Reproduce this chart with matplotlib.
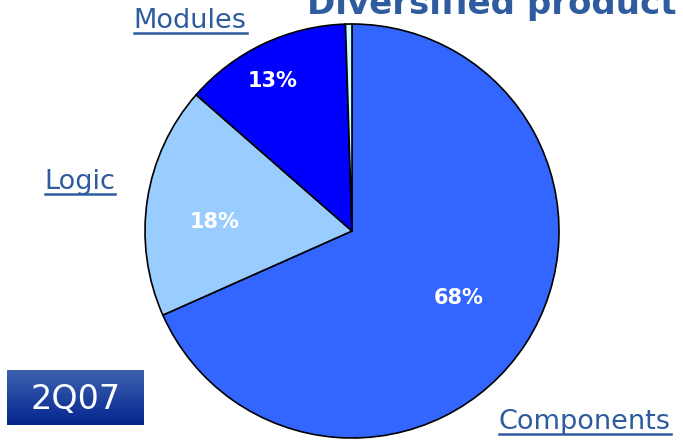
import numpy as np
import matplotlib.pyplot as plt
from matplotlib.lines import Line2D

# Product mix, 2Q07 (share of revenue, %)
segments = ['Components', 'Logic', 'Modules', 'Other']
shares = [68, 18, 13, 0.5]
colors = ['#3366FF', '#99CCFF', '#0000FF', '#CCFFFF']
shown = ['Components', 'Logic', 'Modules']
# where each percentage sits: fraction of radius, nudge from mid-angle (deg)
pct_radius = [0.61, 0.665, 0.82]
pct_nudge = [1.0, 5.0, 2.5]

label_color = '#2E5C9E'

fig = plt.figure(figsize=(6.83, 4.43), dpi=100)
W, H = 683, 443

# pie axes: centre (352, 231) px, radius ~206 px
r_px = 207
ax = fig.add_axes([(352 - r_px) / W, 1 - (231 + r_px) / H, 2 * r_px / W, 2 * r_px / H])
wedges, _ = ax.pie(shares, colors=colors, startangle=90, counterclock=False,
                   radius=1.0, normalize=True,
                   wedgeprops=dict(edgecolor='black', linewidth=1.2))
ax.set_xlim(-1.0, 1.0)
ax.set_ylim(-1.0, 1.0)
ax.set_aspect('equal')
ax.axis('off')

for w, val, rr, nd in zip(wedges, shares, pct_radius, pct_nudge):
    ang = np.deg2rad((w.theta1 + w.theta2) / 2 + nd)
    ax.text(rr * np.cos(ang), rr * np.sin(ang), f'{val}%', color='white',
            fontsize=15, fontweight='bold', ha='center', va='center')

# title, running off the top edge
fig.text(307 / W, 1 - 14 / H, 'Diversified product mix', color=label_color,
         fontsize=24.5, fontweight='bold', ha='left', va='baseline')

# segment captions (baseline positions), underlined
captions = {'Modules': (190, 28), 'Logic': (80, 189), 'Components': (585, 429)}
label_texts = []
for name in shown:
    x, y = captions[name]
    t = fig.text(x / W, 1 - y / H, name, color=label_color, fontsize=19.5,
                 ha='center', va='baseline')
    label_texts.append(t)

fig.canvas.draw()
renderer = fig.canvas.get_renderer()
for t in label_texts:
    bb = t.get_window_extent(renderer)
    x0, y0 = t.get_position()
    yline = y0 * H - 4.5
    fig.add_artist(Line2D([bb.x0 / W, bb.x1 / W], [yline / H, yline / H],
                          color=label_color, linewidth=1.8,
                          transform=fig.transFigure))

# period badge with vertical gradient
bax = fig.add_axes([7 / W, 1 - 425 / H, 137 / W, 55 / H])
grad = np.linspace(0, 1, 64).reshape(-1, 1)
top = np.array([0x3D, 0x62, 0xB0]) / 255
bot = np.array([0x05, 0x25, 0x8E]) / 255
img = top + (bot - top) * grad[..., None]
bax.imshow(img, aspect='auto', extent=[0, 1, 0, 1], origin='upper')
bax.text(0.5, 0.46, '2Q07', color='white', fontsize=24, ha='center', va='center')
bax.axis('off')

fig.savefig('out.png', dpi=100)
